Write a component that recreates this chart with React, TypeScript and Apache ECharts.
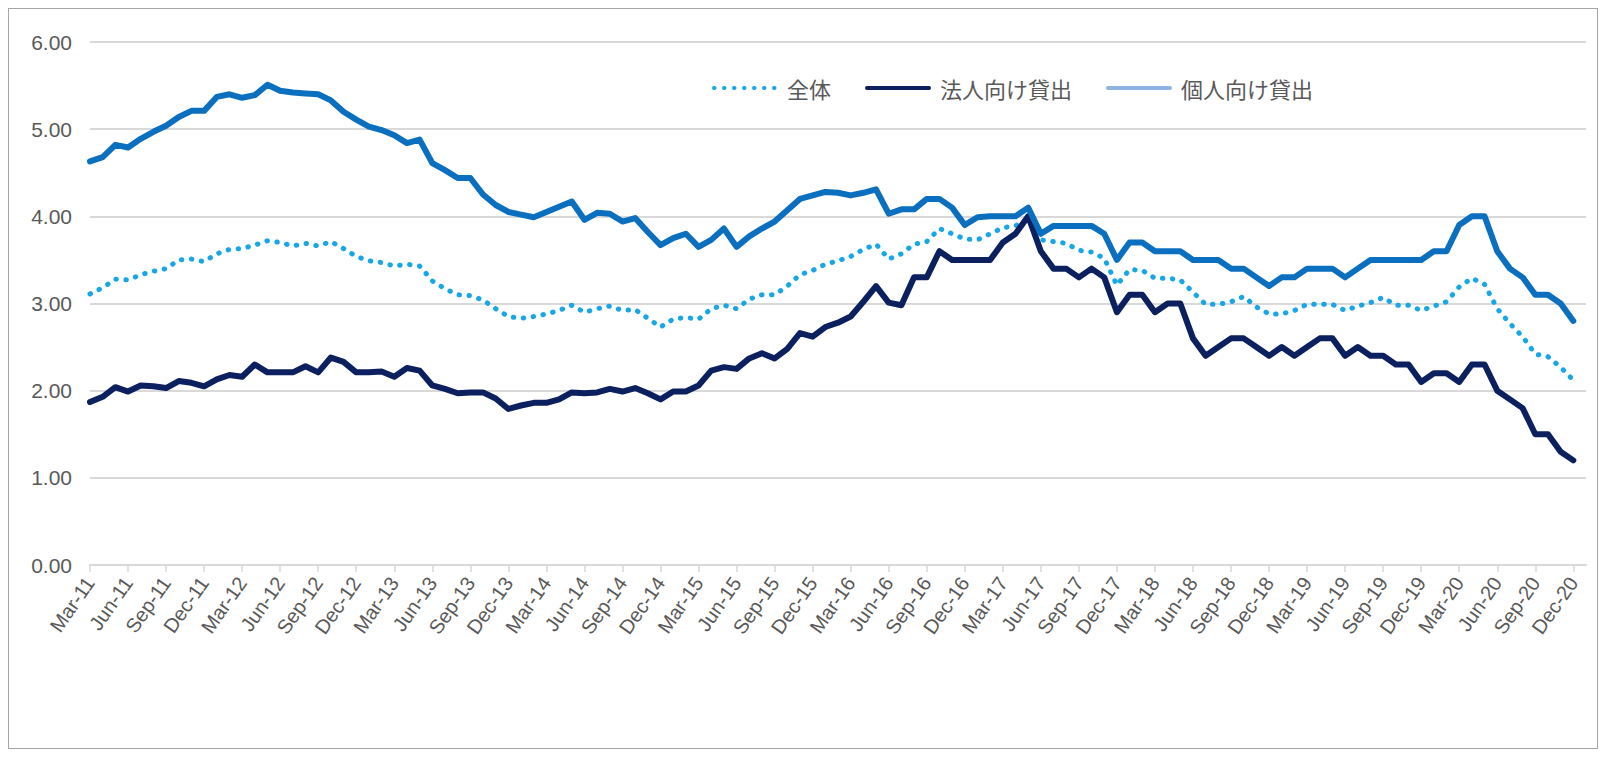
import React, { useEffect, useRef } from "react";
import * as echarts from "echarts";

const MONTHS = ["Jan", "Feb", "Mar", "Apr", "May", "Jun", "Jul", "Aug", "Sep", "Oct", "Nov", "Dec"];
const YEARS = ["11", "12", "13", "14", "15", "16", "17", "18", "19", "20"];
// Mar-11 .. Dec-20 (monthly)
const categories: string[] = YEARS.flatMap((y) => MONTHS.map((m) => `${m}-${y}`)).slice(2);
// labelled months: Mar, Jun, Sep, Dec
const labelMonths = ["Mar", "Jun", "Sep", "Dec"];

const yTicks = [0, 1, 2, 3, 4, 5, 6];

const seriesNames = ["全体", "法人向け貸出", "個人向け貸出"];

const totalData = [
  3.11, 3.18, 3.28, 3.27, 3.33, 3.37, 3.40, 3.50, 3.51, 3.48, 3.57, 3.62, 3.63, 3.67, 3.72, 3.70, 3.66, 3.69, 3.66, 3.71,
  3.63, 3.54, 3.49, 3.47, 3.43, 3.45, 3.43, 3.26, 3.17, 3.10, 3.09, 3.04, 2.94, 2.85, 2.83, 2.85, 2.88, 2.92, 2.98, 2.90,
  2.94, 2.97, 2.92, 2.93, 2.83, 2.73, 2.82, 2.84, 2.82, 2.94, 2.98, 2.94, 3.05, 3.10, 3.10, 3.20, 3.33, 3.38, 3.45, 3.49,
  3.54, 3.62, 3.68, 3.51, 3.57, 3.68, 3.71, 3.86, 3.80, 3.74, 3.73, 3.80, 3.87, 3.89, 3.97, 3.73, 3.71, 3.69, 3.61,
  3.59, 3.52, 3.21, 3.39, 3.38, 3.29, 3.29, 3.27, 3.13, 2.99, 2.99, 3.02, 3.08, 2.96, 2.88, 2.88, 2.92, 2.99, 2.99, 2.99,
  2.92, 2.97, 3.01, 3.07, 2.98, 2.98, 2.92, 2.97, 3.02, 3.19, 3.29, 3.22, 2.94, 2.77, 2.62, 2.42, 2.39, 2.27, 2.12,
];

const corporateData = [
  1.87, 1.93, 2.04, 1.99, 2.06, 2.05, 2.03, 2.11, 2.09, 2.05, 2.13, 2.18, 2.16, 2.30, 2.21, 2.21, 2.21, 2.28, 2.21, 2.38,
  2.33, 2.21, 2.21, 2.22, 2.16, 2.26, 2.23, 2.06, 2.02, 1.97, 1.98, 1.98, 1.91, 1.79, 1.83, 1.86, 1.86, 1.90, 1.98, 1.97,
  1.98, 2.02, 1.99, 2.03, 1.97, 1.90, 1.99, 1.99, 2.06, 2.23, 2.27, 2.25, 2.37, 2.43, 2.37, 2.48, 2.66, 2.62, 2.73, 2.78,
  2.85, 3.02, 3.20, 3.01, 2.98, 3.30, 3.30, 3.60, 3.50, 3.50, 3.50, 3.50, 3.70, 3.80, 4.00, 3.60, 3.40, 3.40, 3.30,
  3.40, 3.30, 2.90, 3.10, 3.10, 2.90, 3.00, 3.00, 2.60, 2.40, 2.50, 2.60, 2.60, 2.50, 2.40, 2.50, 2.40, 2.50, 2.60, 2.60,
  2.40, 2.50, 2.40, 2.40, 2.30, 2.30, 2.10, 2.20, 2.20, 2.10, 2.30, 2.30, 2.00, 1.90, 1.80, 1.50, 1.50, 1.30, 1.20,
];

const personalData = [
  4.63, 4.68, 4.82, 4.79, 4.89, 4.97, 5.04, 5.14, 5.21, 5.21, 5.37, 5.40, 5.36, 5.39, 5.51, 5.44, 5.42, 5.41, 5.40, 5.33,
  5.20, 5.11, 5.03, 4.99, 4.93, 4.84, 4.88, 4.61, 4.53, 4.44, 4.44, 4.25, 4.13, 4.05, 4.02, 3.99, 4.05, 4.11, 4.17, 3.96,
  4.04, 4.03, 3.94, 3.98, 3.82, 3.67, 3.75, 3.80, 3.65, 3.73, 3.86, 3.65, 3.77, 3.86, 3.94, 4.07, 4.20, 4.24, 4.28, 4.27,
  4.24, 4.27, 4.31, 4.03, 4.08, 4.08, 4.20, 4.20, 4.10, 3.90, 3.99, 4.00, 4.00, 4.00, 4.10, 3.80, 3.89, 3.89, 3.89,
  3.89, 3.80, 3.50, 3.70, 3.70, 3.60, 3.60, 3.60, 3.50, 3.50, 3.50, 3.40, 3.40, 3.30, 3.20, 3.30, 3.30, 3.40, 3.40, 3.40,
  3.30, 3.40, 3.50, 3.50, 3.50, 3.50, 3.50, 3.60, 3.60, 3.90, 4.00, 4.00, 3.60, 3.40, 3.30, 3.10, 3.10, 3.00, 2.80,
];

const COLORS = {
  total: "#17a6e6",
  corporate: "#0c1f5e",
  personal: "#0b6fc0",
  personalLegend: "#8db4e2",
  text: "#595959",
  grid: "#d9d9d9",
};

const FONT = "'Liberation Sans', 'Noto Sans CJK JP', sans-serif";

// indices of labelled months on the month axis
const tickIdx: number[] = categories
  .map((c, i) => (labelMonths.includes(c.slice(0, 3)) ? i : -1))
  .filter((i) => i >= 0);

const toPoints = (arr: number[]) => arr.map((v, i) => [i, v]);

export default function App() {
  const ref = useRef<HTMLDivElement>(null);

  useEffect(() => {
    if (!ref.current) return;
    const chart = echarts.init(ref.current, undefined, { renderer: "svg" });
    chart.setOption({
      animation: false,
      backgroundColor: "#ffffff",
      textStyle: { fontFamily: FONT },
      grid: { left: 81, right: 11, top: 33, bottom: 183, containLabel: false },
      legend: {
        left: 698,
        top: 63,
        itemWidth: 62,
        itemHeight: 14,
        itemGap: 34,
        itemStyle: { opacity: 0 },
        lineStyle: { width: 4 },
        textStyle: {
          fontSize: 22,
          color: COLORS.text,
          fontFamily: "'Noto Sans CJK JP', sans-serif",
          padding: [0, 0, 0, 6],
        },
        data: [
          { name: seriesNames[0] },
          { name: seriesNames[1] },
          {
            name: seriesNames[2],
            itemStyle: { opacity: 0 },
            lineStyle: { color: COLORS.personalLegend, type: "solid", width: 4 },
          },
        ],
      },
      xAxis: {
        type: "value",
        min: 0,
        max: categories.length,
        interval: 3,
        axisLine: { onZero: false, lineStyle: { color: COLORS.grid, width: 2 } },
        axisTick: {
          show: true,
          customValues: tickIdx,
          length: 7,
          lineStyle: { color: COLORS.grid, width: 1.5 },
        },
        axisLabel: {
          customValues: tickIdx,
          rotate: 55,
          fontSize: 20,
          color: COLORS.text,
          margin: 14,
          fontFamily: FONT,
          formatter: (v: number) => categories[v] ?? "",
        },
        splitLine: { show: false },
      },
      yAxis: {
        type: "value",
        min: yTicks[0],
        max: yTicks[yTicks.length - 1],
        interval: 1,
        axisLine: { show: false },
        axisTick: { show: false },
        axisLabel: {
          fontSize: 21,
          color: COLORS.text,
          margin: 18,
          fontFamily: FONT,
          formatter: (v: number) => v.toFixed(2),
        },
        splitLine: { lineStyle: { color: COLORS.grid, width: 2 } },
      },
      series: [
        {
          name: seriesNames[0],
          type: "line",
          data: toPoints(totalData),
          symbol: "none",
          color: COLORS.total,
          lineStyle: { color: COLORS.total, width: 5, type: [0.5, 9.5], cap: "round" },
          z: 2,
        },
        {
          name: seriesNames[1],
          type: "line",
          data: toPoints(corporateData),
          symbol: "none",
          color: COLORS.corporate,
          lineStyle: { color: COLORS.corporate, width: 6, cap: "round", join: "round" },
          z: 3,
        },
        {
          name: seriesNames[2],
          type: "line",
          data: toPoints(personalData),
          symbol: "none",
          color: COLORS.personal,
          lineStyle: { color: COLORS.personal, width: 6, cap: "round", join: "round" },
          z: 4,
        },
      ],
    });
    return () => chart.dispose();
  }, []);

  return (
    <div
      style={{
        width: 1590,
        height: 741,
        border: "1px solid #a6a6a6",
        boxSizing: "border-box",
        background: "#fff",
      }}
    >
      <div ref={ref} style={{ width: 1588, height: 739 }} />
    </div>
  );
}
